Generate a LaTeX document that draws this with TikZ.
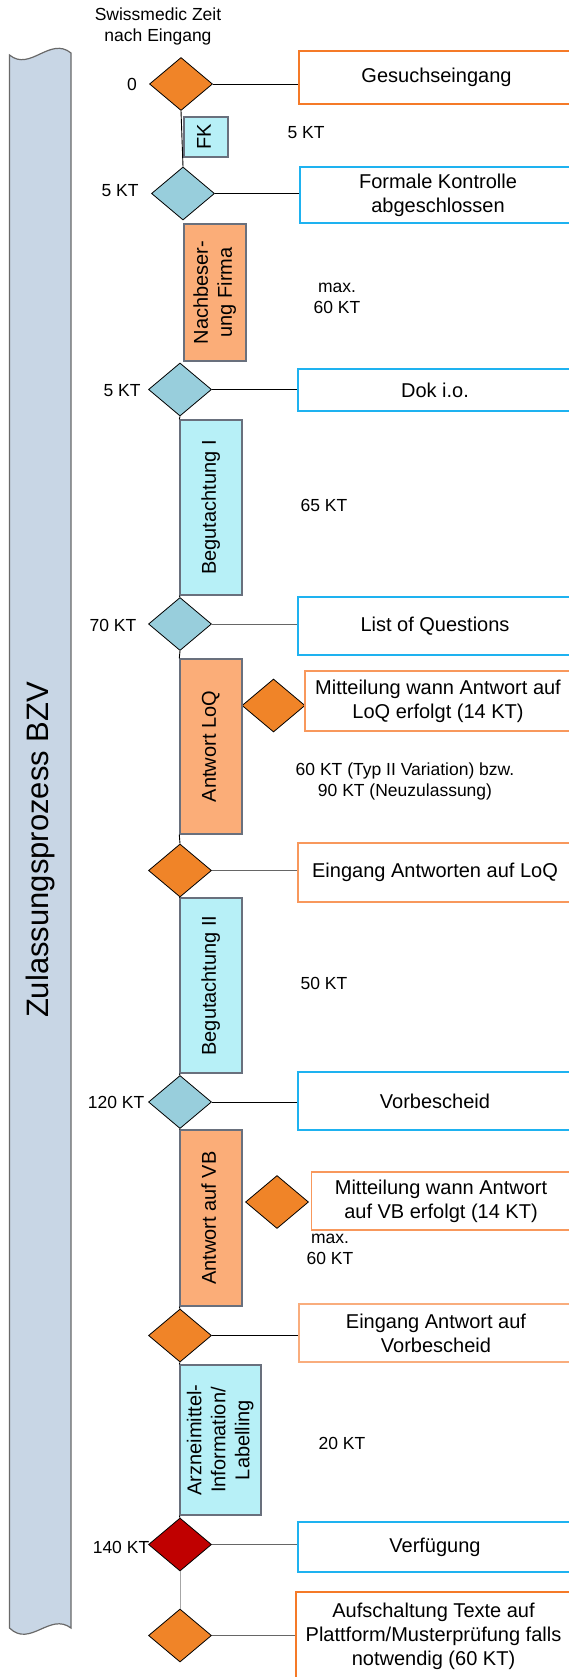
\documentclass[tikz,border=0pt]{standalone}
\usepackage{fontspec}
\setmainfont{Liberation Sans}
\usepackage{graphicx}
\usetikzlibrary{shapes.geometric}

\definecolor{evorange}{RGB}{240,132,40}
\definecolor{evblue}{RGB}{152,206,220}
\definecolor{evred}{RGB}{192,0,0}
\definecolor{actcyan}{RGB}{183,240,247}
\definecolor{actorange}{RGB}{251,173,120}
\definecolor{actline}{RGB}{105,112,125}
\definecolor{poolfill}{RGB}{200,214,229}
\definecolor{poolline}{RGB}{105,105,105}
\definecolor{boxblue}{RGB}{30,178,240}
\definecolor{boxorange}{RGB}{245,122,40}
\definecolor{boxorangelt}{RGB}{248,152,92}

% rotated multi-line text for the activity boxes
\newcommand{\vtext}[1]{\rotatebox{90}{\begin{tabular}{@{}c@{}}#1\end{tabular}}}

\begin{document}
\begin{tikzpicture}[x=1pt, y=-1pt,
        event/.style={diamond, draw=black, line width=0.8pt, inner sep=0pt,
            minimum width=63pt, minimum height=53pt},
        evbox/.style={draw, line width=1.8pt, fill=white, align=center, inner sep=0pt,
            minimum width=274pt, font=\fontsize{20}{24}\selectfont},
        act/.style={draw=actline, line width=1.4pt, inner sep=0pt, minimum width=62pt,
            font=\fontsize{20}{24}\selectfont},
        note/.style={align=center, inner sep=0pt, font=\fontsize{17.5}{21}\selectfont},
        link/.style={line width=0.9pt},
        greylink/.style={line width=0.9pt, draw=black!60}]
    \useasboundingbox (0,0) rectangle (568,1677);

    % pool
    \draw[poolline, fill=poolfill, line width=1.2pt]
        (9.5,55) .. controls (30,72) and (50,36) .. (71,53) -- (71,1628)
        .. controls (50,1612) and (30,1648) .. (9.5,1628) -- cycle;
    \node[rotate=90, font=\fontsize{31}{36}\selectfont] (pooltitle) at (40,850) {Zulassungsprozess BZV};

    \node[note] (header) at (158,26.5) {Swissmedic Zeit\\nach Eingang};

    % events on the time line
    \node[event, fill=evorange] (d0) at (181,84) {};
    \node[event, fill=evblue]   (d1) at (183,193.5) {};
    \node[event, fill=evblue]   (d2) at (180,389.5) {};
    \node[event, fill=evblue]   (d3) at (180,624) {};
    \node[event, fill=evorange] (d4) at (180,870.5) {};
    \node[event, fill=evblue]   (d5) at (180,1102) {};
    \node[event, fill=evorange] (d6) at (180,1335.5) {};
    \node[event, fill=evred]    (d7) at (180,1544.5) {};
    \node[event, fill=evorange] (d8) at (180,1635.5) {};
    \node[event, fill=evorange] (s1) at (273.5,705.5) {};
    \node[event, fill=evorange] (s2) at (277,1202) {};

    \node[note] (t0) at (132,84) {0};
    \node[note] (t1) at (120,191) {5 KT};
    \node[note] (t2) at (122,391) {5 KT};
    \node[note] (t3) at (113,625) {70 KT};
    \node[note] (t5) at (116,1102) {120 KT};
    \node[note] (t7) at (121,1547) {140 KT};

    % activities
    \node[act, fill=actcyan, minimum width=44pt, minimum height=40pt] (fk) at (206,137) {\vtext{FK}};
    \node[act, fill=actorange, minimum height=137pt] (nach) at (215,292.5) {\vtext{Nachbeser-\\ung Firma}};
    \node[act, fill=actcyan, minimum height=175pt] (beg1) at (211,507.5) {\vtext{Begutachtung I}};
    \node[act, fill=actorange, minimum height=175pt] (antloq) at (211,746.5) {\vtext{Antwort LoQ}};
    \node[act, fill=actcyan, minimum height=175pt] (beg2) at (211,985.5) {\vtext{Begutachtung II}};
    \node[act, fill=actorange, minimum height=176pt] (antvb) at (211,1218) {\vtext{Antwort auf VB}};
    \node[act, fill=actcyan, minimum width=81pt, minimum height=150pt] (arz) at (220.5,1440) {\vtext{Arzneimittel-\\Information/\\Labelling}};

    % durations
    \node[note] (n1) at (306,133) {5 KT};
    \node[note] (n2) at (337,298.5) {max.\\60 KT};
    \node[note] (n3) at (324,505) {65 KT};
    \node[note] (n4) at (405,781) {60 KT (Typ II Variation) bzw.\\90 KT (Neuzulassung)};
    \node[note] (n5) at (324,983) {50 KT};
    \node[note] (n6) at (330,1249) {max.\\60 KT};
    \node[note] (n7) at (342,1443) {20 KT};

    % milestones
    \node[evbox, draw=boxorange, minimum height=53pt, minimum width=275pt] (gesuch) at (436.5,77.5) {Gesuchseingang};
    \node[evbox, draw=boxblue, minimum height=56pt, minimum width=276pt] (formal) at (438,195) {Formale Kontrolle\\abgeschlossen};
    \node[evbox, draw=boxblue, minimum height=42pt] (dok) at (435,390) {Dok i.o.};
    \node[evbox, draw=boxblue, minimum height=58pt] (loq) at (435,626) {List of Questions};
    \node[evbox, draw=boxorangelt, minimum height=60pt, minimum width=266pt] (mit1) at (438,701) {Mitteilung wann Antwort auf\\LoQ erfolgt (14 KT)};
    \node[evbox, draw=boxorangelt, minimum height=59pt] (eing1) at (435,872.5) {Eingang Antworten auf LoQ};
    \node[evbox, draw=boxblue, minimum height=58pt] (vorb) at (435,1101) {Vorbescheid};
    \node[evbox, draw=boxorangelt, minimum height=58pt, minimum width=259pt] (mit2) at (441,1201) {Mitteilung wann Antwort\\auf VB erfolgt (14 KT)};
    \node[evbox, draw=boxorangelt!80, minimum height=58pt] (eing2) at (436,1333) {Eingang Antwort auf\\Vorbescheid};
    \node[evbox, draw=boxblue, minimum height=50pt] (verf) at (435,1547) {Verfügung};
    \node[evbox, draw=boxorange, minimum height=88pt, minimum width=275pt] (aufsch) at (433.5,1636) {Aufschaltung Texte auf\\Plattform/Musterprüfung falls\\notwendig (60 KT)};

    % time line
    \draw[link] (d0.south) -- (d1.north);
    \foreach \a/\b in {d2/beg1, d3/antloq, d4/beg2, d5/antvb, d6/arz}
        \draw[link] (\a.south) -- (\b.north west);
    \foreach \a/\b in {beg1/d3, antloq/d4, beg2/d5, antvb/d6, arz/d7}
        \draw[link] (\a.south west) -- (\b.north);
    \draw[greylink, draw=black!35] (d7.south) -- (d8.north);

    % events to milestones
    \foreach \a/\b in {d0/gesuch, d1/formal, d2/dok, d5/vorb, d6/eing2}
        \draw[link] (\a.east) -- (\a.east -| \b.west);
    \foreach \a/\b in {d3/loq, d4/eing1, d7/verf, d8/aufsch}
        \draw[greylink] (\a.east) -- (\a.east -| \b.west);
\end{tikzpicture}
\end{document}
